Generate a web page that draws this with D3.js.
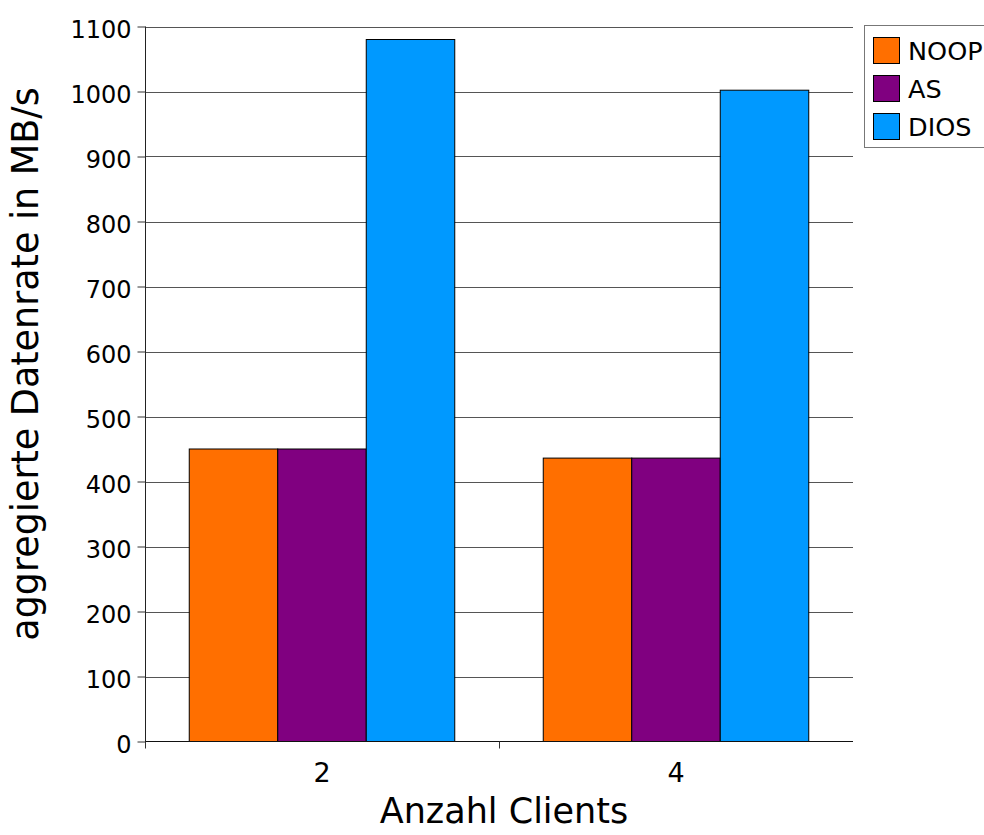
<!DOCTYPE html>
<html>
<head>
<meta charset="utf-8">
<script src="https://cdn.jsdelivr.net/npm/d3@7"></script>
<style>
  html, body { margin: 0; padding: 0; background: #ffffff; }
  svg { display: block; font-family: "DejaVu Sans", Verdana, sans-serif; }
</style>
</head>
<body>
<svg id="chart" width="984" height="835"></svg>
<script>
// ---- data ----
const categories = ["2", "4"];
const seriesNames = ["NOOP", "AS", "DIOS"];
const noopValues = [450, 436];
const asValues = [450, 436];
const diosValues = [1080, 1002];
const seriesColors = ["#ff6f00", "#800080", "#0099ff"];
const yTicks = [0, 100, 200, 300, 400, 500, 600, 700, 800, 900, 1000, 1100];
const xTitle = "Anzahl Clients";
const yTitle = "aggregierte Datenrate in MB/s";

const seriesValues = [noopValues, asValues, diosValues];

// ---- layout ----
const plot = { left: 145, right: 853, top: 26.5, bottom: 741.5 };
const svg = d3.select("#chart");

const x0 = d3.scaleBand().domain(categories).range([plot.left, plot.right]).padding(0);
const x1 = d3.scaleBand().domain(seriesNames).range([0, x0.bandwidth()]).paddingInner(0).paddingOuter(0.5);
const y = d3.scaleLinear().domain([0, 1100]).range([plot.bottom, plot.top]);

// gridlines
svg.append("g")
  .selectAll("line")
  .data(yTicks.filter(d => d > 0))
  .join("line")
  .attr("x1", plot.left).attr("x2", plot.right)
  .attr("y1", d => Math.round(y(d)) + 0.5).attr("y2", d => Math.round(y(d)) + 0.5)
  .attr("stroke", "#555").attr("stroke-width", 1);

// bars
const rows = [];
categories.forEach((c, ci) => {
  seriesNames.forEach((s, si) => rows.push({ c, s, si, v: seriesValues[si][ci] }));
});
svg.append("g")
  .selectAll("rect")
  .data(rows)
  .join("rect")
  .attr("x", d => x0(d.c) + x1(d.s))
  .attr("width", x1.bandwidth())
  .attr("y", d => y(d.v))
  .attr("height", d => y(0) - y(d.v))
  .attr("fill", d => seriesColors[d.si])
  .attr("stroke", "#000")
  .attr("stroke-width", 1);

// y axis
const yAxis = d3.axisLeft(y).tickValues(yTicks).tickFormat(d3.format("d")).tickSize(8).tickPadding(6);
const yg = svg.append("g").attr("transform", `translate(${plot.left + 0.5},0)`).call(yAxis);
yg.select(".domain").attr("stroke", "#222").attr("d", `M0,${plot.top}V${plot.bottom}`);
yg.selectAll(".tick line").attr("stroke", "#333");
yg.selectAll(".tick text")
  .attr("font-size", 24).attr("fill", "#000")
  .attr("x", -14).attr("dy", "11px")
  .attr("font-family", "DejaVu Sans");

// x axis
const xg = svg.append("g").attr("transform", `translate(0,${plot.bottom})`);
xg.append("line")
  .attr("x1", plot.left).attr("x2", plot.right)
  .attr("y1", 0).attr("y2", 0)
  .attr("stroke", "#111").attr("stroke-width", 1.2);
xg.selectAll("line.tk")
  .data(categories)
  .join("line").attr("class", "tk")
  .attr("x1", d => x0(d) + 0.5).attr("x2", d => x0(d) + 0.5)
  .attr("y1", 0).attr("y2", 7)
  .attr("stroke", "#333");
xg.selectAll("text")
  .data(categories)
  .join("text")
  .attr("x", d => x0(d) + x0.bandwidth() / 2)
  .attr("y", 40.5)
  .attr("text-anchor", "middle")
  .attr("font-size", 27)
  .attr("fill", "#000")
  .text(d => d);

// axis titles
svg.append("text")
  .attr("x", 504).attr("y", 823)
  .attr("text-anchor", "middle")
  .attr("font-size", 35)
  .attr("fill", "#000")
  .text(xTitle);

svg.append("text")
  .attr("transform", "translate(38,364) rotate(-90)")
  .attr("text-anchor", "middle")
  .attr("font-size", 36.5)
  .attr("fill", "#000")
  .text(yTitle);

// legend
const legend = svg.append("g");
legend.append("rect")
  .attr("x", 864.5).attr("y", 25.5)
  .attr("width", 140).attr("height", 122)
  .attr("fill", "#fff").attr("stroke", "#777").attr("stroke-width", 1);
const items = legend.selectAll("g.item")
  .data(seriesNames)
  .join("g").attr("class", "item")
  .attr("transform", (d, i) => `translate(0,${i * 38})`);
items.append("rect")
  .attr("x", 873.5).attr("y", 37.5)
  .attr("width", 26).attr("height", 26)
  .attr("fill", (d, i) => seriesColors[i])
  .attr("stroke", "#000").attr("stroke-width", 1);
items.append("text")
  .attr("x", 908).attr("y", 60)
  .attr("font-size", 25.5)
  .attr("fill", "#000")
  .text(d => d);
</script>
</body>
</html>
